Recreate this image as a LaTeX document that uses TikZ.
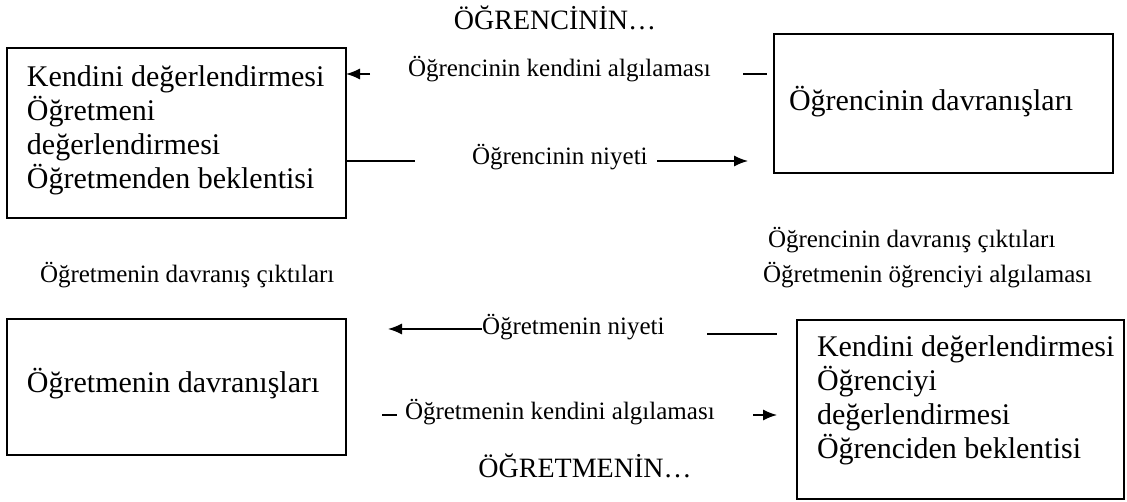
\documentclass[tikz,border=0pt]{standalone}
\usepackage{fontspec}
\setmainfont{Liberation Serif}
\usetikzlibrary{arrows.meta}
\begin{document}
\begin{tikzpicture}[x=1pt,y=1pt,
  box/.style={draw=drawColor,line width=1.5pt,inner sep=0pt,outer sep=0pt,anchor=south west},
  boxtext/.style={text=drawColor,anchor=base west,inner sep=0pt,outer sep=0pt,font=\fontsize{30}{34}\selectfont},
  lbl/.style={text=drawColor,anchor=base west,inner sep=0pt,outer sep=0pt,font=\fontsize{25}{28}\selectfont},
  baslik/.style={text=drawColor,anchor=base,inner sep=0pt,outer sep=0pt,font=\fontsize{28}{32}\selectfont},
  conn/.style={draw=drawColor,line width=1.3pt},
  arr/.style={conn,-{Latex[length=14pt,width=11pt]}}]
\definecolor{fillColor}{RGB}{255,255,255}
\definecolor{drawColor}{RGB}{0,0,0}
\path[use as bounding box,fill=fillColor] (0,0) rectangle (1127,502);

% boxes
\node[box,minimum width=339pt,minimum height=170pt] (ogrBen) at (  7.00,284.00) {};

\node[box,minimum width=339pt,minimum height=139pt] (ogrDav) at (774.00,329.00) {};

\node[box,minimum width=339pt,minimum height=136pt] (ogtDav) at (  7.00, 47.00) {};

\node[box,minimum width=327pt,minimum height=179pt] (ogtBen) at (797.00,  3.00) {};

% box texts
\node[boxtext] (ogrBen1) at ( 27.00,415.00) {Kendini değerlendirmesi};

\node[boxtext] (ogrBen2) at ( 27.00,381.00) {Öğretmeni};

\node[boxtext] (ogrBen3) at ( 27.00,347.00) {değerlendirmesi};

\node[boxtext] (ogrBen4) at ( 27.00,313.00) {Öğretmenden beklentisi};

\node[boxtext] (ogrDav1) at (789.00,391.00) {Öğrencinin davranışları};

\node[boxtext] (ogtDav1) at ( 27.00,109.00) {Öğretmenin davranışları};

\node[boxtext] (ogtBen1) at (817.00,145.00) {Kendini değerlendirmesi};

\node[boxtext] (ogtBen2) at (817.00,111.00) {Öğrenciyi};

\node[boxtext] (ogtBen3) at (817.00, 77.00) {değerlendirmesi};

\node[boxtext] (ogtBen4) at (817.00, 43.00) {Öğrenciden beklentisi};

% titles
\node[baslik] (ogrBaslik) at (555.00,472.00) {ÖĞRENCİNİN…};

\node[baslik] (ogtBaslik) at (585.00, 24.00) {ÖĞRETMENİN…};

% labels
\node[lbl] (ogrAlgi) at (408.00,425.00) {Öğrencinin kendini algılaması};

\node[lbl] (ogrNiyet) at (472.00,337.00) {Öğrencinin niyeti};

\node[lbl] (ogrCikti) at (768.00,254.00) {Öğrencinin davranış çıktıları};

\node[lbl] (ogtOgrAlgi) at (763.00,219.00) {Öğretmenin öğrenciyi algılaması};

\node[lbl] (ogtCikti) at ( 40.00,219.00) {Öğretmenin davranış çıktıları};

\node[lbl] (ogtNiyet) at (482.00,167.00) {Öğretmenin niyeti};

\node[lbl] (ogtAlgi) at (405.00, 82.00) {Öğretmenin kendini algılaması};

% free ends of the connectors
\coordinate (a1) at (370.00,428.00);
\coordinate (a2) at (743.00,428.00);
\coordinate (a3) at (767.00,428.00);
\coordinate (b1) at (415.00,341.00);
\coordinate (b2) at (657.00,341.00);
\coordinate (b3) at (748.00,341.00);
\coordinate (c1) at (388.00,173.00);
\coordinate (c2) at (707.00,168.00);
\coordinate (c3) at (777.00,168.00);
\coordinate (d1) at (382.00, 87.00);
\coordinate (d2) at (397.00, 87.00);
\coordinate (d3) at (753.00, 87.00);
\coordinate (d4) at (777.00, 87.00);

% connectors
\path[arr] (a1) -- (a1 -| ogrBen.east);

\path[conn] (a2) -- (a3);

\path[conn] (b1 -| ogrBen.east) -- (b1);

\path[arr] (b2) -- (b3);

\path[arr] (c1 -| ogtNiyet.west) -- (c1);

\path[conn] (c2) -- (c3);

\path[conn] (d1) -- (d2);

\path[arr] (d3) -- (d4);
\end{tikzpicture}
\end{document}
